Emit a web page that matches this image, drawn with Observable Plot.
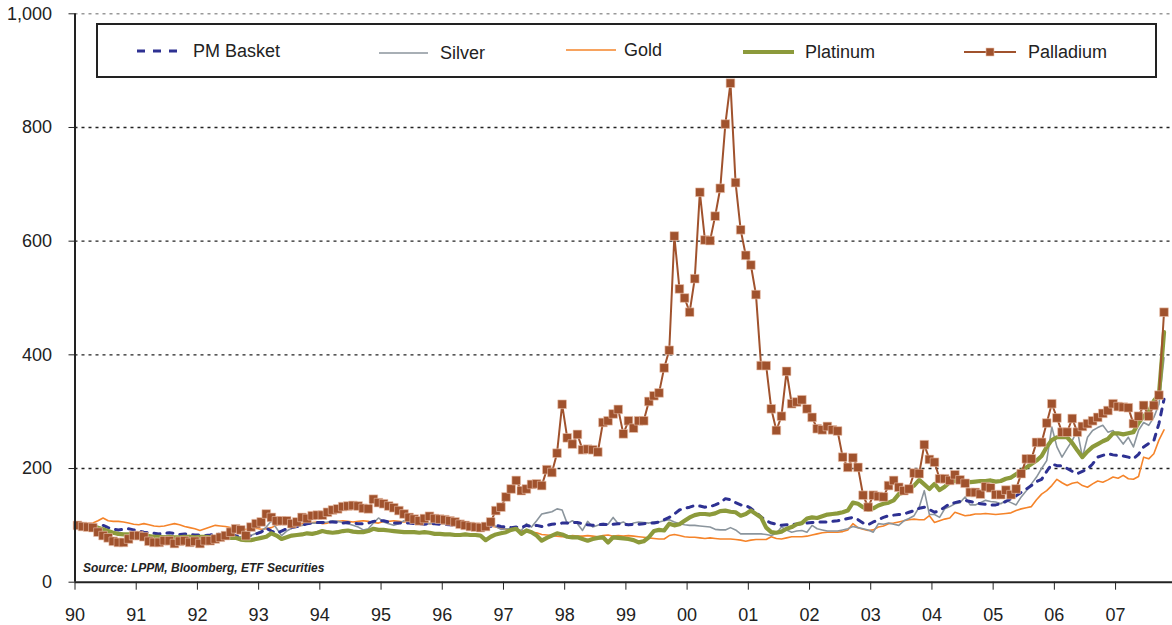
<!DOCTYPE html>
<html>
<head>
<meta charset="utf-8">
<script src="https://cdn.jsdelivr.net/npm/d3@7"></script>
<script src="https://cdn.jsdelivr.net/npm/@observablehq/plot@0.6"></script>
<style>
  body { margin: 0; background: #fff; font-family: "Liberation Sans", Arial, sans-serif; }
  #wrap { position: relative; width: 1172px; height: 625px; }
  #legendBox { position: absolute; left: 96px; top: 23px; width: 1057px; height: 51px; border: 2px solid #222; background: #fff; }
  .lg-text { position: absolute; font-size: 18px; line-height: 18px; color: #222; white-space: nowrap; }
  .lg-sw { position: absolute; overflow: visible; }
</style>
</head>
<body>
<div id="wrap"></div>
<script>
// Monthly index values, Jan 1990 .. Oct 2007 (Jan 1990 = 100)
const startYear = 1990;
const seriesNames = ["PM Basket", "Silver", "Gold", "Platinum", "Palladium"];

const pmBasket = [
  100,99,98,97,98,100,96,93,92,93,94,92,        // 1990
  90,88,87,86,85,86,87,86,84,85,84,83,          // 1991
  83,82,83,85,84,83,82,82,80,80,82,85,          // 1992
  88,95,90,86,90,94,96,98,100,103,104,105,      // 1993
  105,106,106,105,104,105,104,103,103,104,107,108, // 1994
  108,106,104,104,105,104,103,103,102,103,103,102, // 1995
  102,101,100,100,100,99,98,98,97,98,100,98,    // 1996
  97,96,97,96,100,98,100,98,100,102,103,104,    // 1997
  104,105,105,103,101,100,101,102,101,102,103,102, // 1998
  101,102,102,103,104,104,106,110,114,120,127,130, // 1999
  132,135,134,132,133,136,140,147,145,140,136,135, // 2000
  130,123,115,108,104,102,100,101,102,102,103,104, // 2001
  105,106,106,106,107,108,110,112,114,110,104,101, // 2002
  106,110,114,117,118,119,120,123,126,130,132,128, // 2003
  123,126,132,138,140,142,144,142,140,138,137,136, // 2004
  136,138,142,147,152,158,164,170,177,181,195,208, // 2005
  205,205,200,195,191,195,199,208,220,223,226,224, // 2006
  223,222,220,217,225,238,244,249,279,322          // 2007
];

const silver = [
  100,97,95,92,90,88,86,85,84,83,82,82,
  82,82,81,80,80,81,82,80,80,81,82,80,
  80,79,78,80,79,78,79,80,80,79,82,86,
  90,97,108,95,82,90,95,97,100,102,104,104,
  105,106,108,107,105,103,100,97,92,94,104,113,
  106,103,100,103,108,106,103,103,102,103,104,103,
  103,102,100,99,98,96,95,97,100,105,98,93,
  94,94,92,91,103,97,108,120,122,124,129,127,
  103,108,103,91,107,97,100,103,102,114,103,106,
  100,104,106,105,104,106,106,108,110,106,103,101,
  100,100,99,98,97,93,92,92,96,92,85,85,
  85,85,85,84,82,86,97,92,88,90,91,88,
  100,94,92,90,90,90,92,94,98,96,94,92,
  88,103,102,104,102,100,108,112,117,132,161,119,
  119,114,129,133,138,140,150,136,136,140,144,142,
  141,138,144,140,136,150,161,173,185,200,214,273,
  238,220,235,249,267,220,255,267,272,276,264,267,
  255,243,255,238,267,281,276,290,313,395
];

const gold = [
  100,102,103,104,108,113,108,107,107,106,104,102,
  101,103,101,99,98,99,101,103,101,98,96,94,
  91,94,97,100,99,98,96,91,92,93,94,95,
  93,94,96,100,104,108,106,104,103,104,105,106,
  103,104,106,107,108,107,106,107,108,107,105,104,
  107,107,108,107,106,107,106,105,104,103,103,103,
  103,102,101,100,100,100,100,99,100,99,97,95,
  93,94,92,91,90,88,87,84,83,82,81,80,
  80,82,81,81,82,81,80,82,83,81,82,81,
  82,81,80,79,78,77,76,76,82,84,82,80,
  79,79,78,77,78,77,76,76,76,75,74,72,
  74,75,75,75,80,77,76,78,80,80,80,81,
  83,85,87,88,88,88,89,92,103,96,93,91,
  92,97,99,103,104,106,108,110,111,110,110,117,
  105,108,111,113,123,120,117,118,120,120,121,120,
  119,120,121,122,126,129,131,133,145,155,161,170,
  181,175,170,174,176,170,167,173,178,176,180,185,
  183,188,182,181,186,220,217,226,250,268
];

const platinum = [
  100,98,97,96,96,93,90,87,85,84,84,85,
  83,82,81,80,80,79,80,79,79,80,80,79,
  80,80,79,79,79,78,78,78,75,74,74,76,
  78,80,86,82,76,79,82,83,84,86,85,87,
  90,88,87,88,90,91,89,88,88,90,94,92,
  92,91,90,89,88,88,88,87,88,87,85,85,
  84,84,83,83,84,83,83,82,74,80,84,86,
  88,92,94,85,91,88,82,73,78,82,86,84,
  80,79,79,76,73,76,78,79,70,79,78,77,
  76,74,70,72,79,90,92,91,103,100,102,108,
  114,118,120,120,119,121,125,126,124,123,117,120,
  126,120,114,96,88,87,89,94,97,102,104,112,
  114,113,116,119,120,121,123,126,140,138,132,127,
  130,135,138,140,144,155,158,164,170,180,172,164,
  173,162,168,176,178,179,178,176,177,178,178,179,
  177,178,182,184,190,196,202,208,214,222,238,250,
  255,255,255,245,232,220,230,238,243,248,252,262,
  262,260,262,264,280,292,300,319,330,440
];

const palladium = [
  100,98,97,96,88,82,78,72,70,70,76,82,
  82,80,72,70,70,73,73,68,72,73,70,72,
  68,73,73,76,79,82,88,94,92,82,97,103,
  106,120,114,108,108,108,103,106,114,112,117,118,
  118,123,127,129,133,134,135,134,130,129,146,140,
  138,134,131,126,120,114,111,108,112,116,112,111,
  110,108,106,102,100,98,97,96,98,106,126,132,
  150,164,179,161,164,172,173,170,198,193,227,313,
  254,243,260,233,234,233,229,281,284,296,304,261,
  284,271,284,284,318,328,333,377,408,609,516,500,
  475,534,686,602,601,644,693,806,878,703,620,575,
  558,506,381,381,305,267,292,371,314,317,321,305,
  290,270,268,274,268,266,220,202,219,202,153,132,
  153,151,150,170,179,167,161,164,192,191,242,216,
  211,182,182,179,189,180,174,158,158,155,168,166,
  154,154,162,154,164,191,217,217,246,246,280,314,
  289,264,264,288,264,274,279,284,290,297,302,314,
  309,308,307,279,292,311,292,311,329,475
];

const yTicks = [0, 200, 400, 600, 800, 1000];
const xTicks = d3.range(1990, 2008);
const sourceNote = "Source: LPPM, Bloomberg, ETF Securities";

const colors = {
  "PM Basket": "#2e3192",
  "Silver": "#8b959d",
  "Gold": "#f5842a",
  "Platinum": "#8c9a3b",
  "Palladium": "#a0522d"
};

const toRows = arr => arr.map((v, i) => ({date: startYear + (i + 0.5) / 12, value: v}));
const pmRows = toRows(pmBasket);
const silverRows = toRows(silver);
const goldRows = toRows(gold);
const platRows = toRows(platinum);
const pallRows = toRows(palladium);

const chart = Plot.plot({
  width: 1172,
  height: 625,
  marginLeft: 74.5,
  marginRight: 0,
  marginTop: 13.3,
  marginBottom: 43.3,
  x: {domain: [1990, 2007.93], label: null},
  y: {domain: [0, 1000], label: null},
  style: {fontFamily: '"Liberation Sans", Arial, sans-serif', fontSize: "18px", color: "#222", background: "#fff", overflow: "visible"},
  marks: [
    Plot.ruleY(yTicks.filter(d => d > 0 && d < 1000), {stroke: "#222", strokeDasharray: "3,4", strokeWidth: 1.4}),
    Plot.ruleY([1000], {stroke: "#999", strokeDasharray: "3,4", strokeWidth: 1.4}),
    Plot.line(goldRows, {x: "date", y: "value", stroke: colors["Gold"], strokeWidth: 1.6}),
    Plot.line(silverRows, {x: "date", y: "value", stroke: colors["Silver"], strokeWidth: 1.6}),
    Plot.line(pmRows, {x: "date", y: "value", stroke: colors["PM Basket"], strokeWidth: 3, strokeDasharray: "6,7"}),
    Plot.line(platRows, {x: "date", y: "value", stroke: colors["Platinum"], strokeWidth: 4.2}),
    Plot.line(pallRows, {x: "date", y: "value", stroke: colors["Palladium"], strokeWidth: 2}),
    Plot.dot(pallRows, {x: "date", y: "value", symbol: "square", r: 4.9, fill: colors["Palladium"], stroke: "#ecc4ae", strokeWidth: 0.6}),
    Plot.axisY({ticks: yTicks, tickSize: 6, tickPadding: 17, tickFormat: d3.format(","), fontSize: 18, stroke: "#222"}),
    Plot.axisX({ticks: xTicks, tickSize: 8, tickPadding: 18, tickFormat: d => String(d % 100).padStart(2, "0"), fontSize: 18, stroke: "#222"}),
    Plot.ruleX([1990], {stroke: "#222", strokeWidth: 2}),
    Plot.ruleY([0], {stroke: "#222", strokeWidth: 2}),
    Plot.text([sourceNote], {frameAnchor: "bottom-left", dx: 8, dy: -14, textAnchor: "start", lineAnchor: "middle", fontWeight: "bold", fontStyle: "italic", fontSize: 12, fill: "#222"})
  ]
});

const wrap = document.getElementById("wrap");
wrap.appendChild(chart);

// Legend (inside the plot frame, as in the original)
const box = document.createElement("div");
box.id = "legendBox";
wrap.appendChild(box);

const legendLayout = [
  {name: "PM Basket", sx: 137, sw: 45, tx: 193, cy: 51, kind: "dash"},
  {name: "Silver", sx: 379, sw: 49, tx: 440, cy: 53, kind: "thin"},
  {name: "Gold", sx: 566, sw: 50, tx: 624, cy: 50, kind: "thin"},
  {name: "Platinum", sx: 743, sw: 51, tx: 805, cy: 51.5, kind: "thick"},
  {name: "Palladium", sx: 964, sw: 52, tx: 1028, cy: 51.5, kind: "marker"}
];

legendLayout.forEach(item => {
  const c = colors[item.name];
  const svg = d3.create("svg").attr("class", "lg-sw")
    .attr("width", item.sw).attr("height", 12)
    .style("left", item.sx + "px").style("top", (item.cy - 6) + "px");
  const sw = item.kind === "thick" ? 4.2 : item.kind === "dash" ? 3 : item.kind === "marker" ? 2 : 1.6;
  const line = svg.append("line").attr("x1", 0).attr("x2", item.sw).attr("y1", 6).attr("y2", 6)
    .attr("stroke", c).attr("stroke-width", sw);
  if (item.kind === "dash") line.attr("stroke-dasharray", "8,8");
  if (item.kind === "marker") {
    svg.append("rect").attr("x", item.sw / 2 - 4).attr("y", 2).attr("width", 8).attr("height", 8)
      .attr("fill", c).attr("stroke", "#ecc4ae").attr("stroke-width", 0.6);
  }
  wrap.appendChild(svg.node());
  const t = document.createElement("span");
  t.className = "lg-text";
  t.textContent = item.name;
  t.style.left = item.tx + "px";
  t.style.top = (item.cy - 9) + "px";
  wrap.appendChild(t);
});
</script>
</body>
</html>
